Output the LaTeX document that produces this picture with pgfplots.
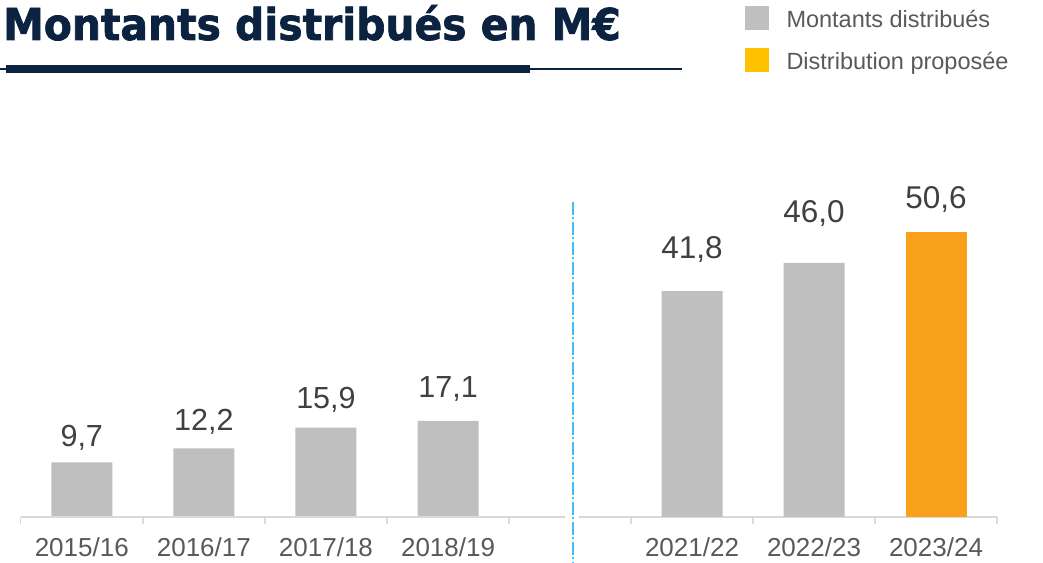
\documentclass[border=0pt]{standalone}
\usepackage{fontspec}
\setmainfont{Liberation Sans}
\newfontfamily\titlefont[FakeStretch=0.93, FakeBold=1.6]{DejaVu Sans}
\usepackage{pgfplots}
\pgfplotsset{compat=1.18}
\usepackage{pgfplotstable}
\definecolor{navy}{HTML}{0B2340}
\definecolor{bargray}{HTML}{BFBFBF}
\definecolor{barorange}{HTML}{F9A11B}
\definecolor{legendgold}{HTML}{FFC000}
\definecolor{axisgray}{HTML}{D9D9D9}
\definecolor{ticktext}{HTML}{595959}
\definecolor{valtext}{HTML}{404040}
\definecolor{dashblue}{HTML}{3FBDF4}

\pgfplotstableread{
x y dy
81.75 9.7 15.6
203.85 12.2 18
325.95 15.9 19.6
448.05 17.1 23
}\lefttable
\pgfplotstableread{
x y dy
692 41.8 32.8
814 46.0 40.1
}\righttable
\pgfplotstableread{
x y dy
936 50.6 23.5
}\proptable

\pgfplotsset{
 base/.style={
  scale only axis, width=1043bp, height=517bp, xmin=0, xmax=1043,
  hide y axis, axis x line*=bottom, x axis line style={draw=none},
  tick align=outside, major tick length=0pt, minor tick length=7bp,
  minor tick style={axisgray, line width=1.5bp}, major tick style={draw=none},
  xticklabel style={font=\fontsize{26bp}{30bp}\selectfont, text=ticktext, anchor=base, inner sep=0pt, yshift=-39.7bp},
  ybar, bar shift=0pt, bar width=61bp,
  /pgf/number format/.cd, fixed, fixed zerofill, precision=1, use comma, assume math mode=true, /pgfplots/.cd,
  nodes near coords,
  visualization depends on={\thisrow{dy} \as \labelshift},
  every node near coord/.append style={anchor=base, inner sep=0pt, yshift=\labelshift bp, text=valtext},
 }
}

\begin{document}
\begin{tikzpicture}
\begin{axis}[base, ymin=0, ymax=91.99, clip=false,
  xtick={81.75,203.85,325.95,448.05},
  xticklabels={2015/16,2016/17,2017/18,2018/19},
  minor xtick={20.7,142.8,264.9,387.0,509.1},
  every node near coord/.append style={font=\fontsize{30.5bp}{36bp}\selectfont}]
\addplot[fill=bargray, draw=none] table[x=x,y=y]{\lefttable};
\draw[axisgray, line width=1.5bp] (axis cs:20.7,0) -- (axis cs:565,0);
\draw[axisgray, line width=1.5bp] (axis cs:579.3,0) -- (axis cs:997,0);
\draw[dashblue, line width=1.6bp, dash pattern=on 13bp off 2.5bp on 1.5bp off 3bp] (axis cs:572.7,56.05) -- (axis cs:572.7,-8.185);
\end{axis}
\begin{axis}[base, ymin=8.29, ymax=85.0,
  xtick={692,814,936},
  xticklabels={2021/22,2022/23,2023/24},
  minor xtick={631,753,875,997},
  every node near coord/.append style={font=\fontsize{31.5bp}{36bp}\selectfont},
  legend style={at={(0.714286,0.98839)}, anchor=north west, draw=none, fill=none, inner sep=0pt, outer sep=0pt,
    font=\fontsize{23.5bp}{28bp}\selectfont, text=ticktext, row sep=14.7bp, column sep=18bp,
    nodes={inner sep=0pt, anchor=base west, text height=17bp, text depth=5bp}},
  legend image code/.code={\fill[#1] (0bp,-2bp) rectangle (23.5bp,22bp);}]
\addplot[fill=bargray, draw=none] table[x=x,y=y]{\righttable};
\addlegendentry{Montants distribués}
\addplot[fill=barorange, draw=none, legend image code/.code={\fill[legendgold] (0bp,-2bp) rectangle (23.5bp,22bp);}] table[x=x,y=y]{\proptable};
\addlegendentry{Distribution proposée}
\end{axis}
\node[anchor=base west, inner sep=0pt, text=navy, font=\titlefont\bfseries\fontsize{43.9bp}{50bp}\selectfont] at (3bp,477bp) {Montants distribués en M€};
\fill[navy] (6bp,452bp) rectangle (530bp,444bp);
\draw[navy, line width=1.2bp] (0bp,448bp) -- (682bp,448bp);
\pgfresetboundingbox
\path[use as bounding box] (0bp,-46bp) rectangle (1043bp,517bp);
\end{tikzpicture}
\end{document}
